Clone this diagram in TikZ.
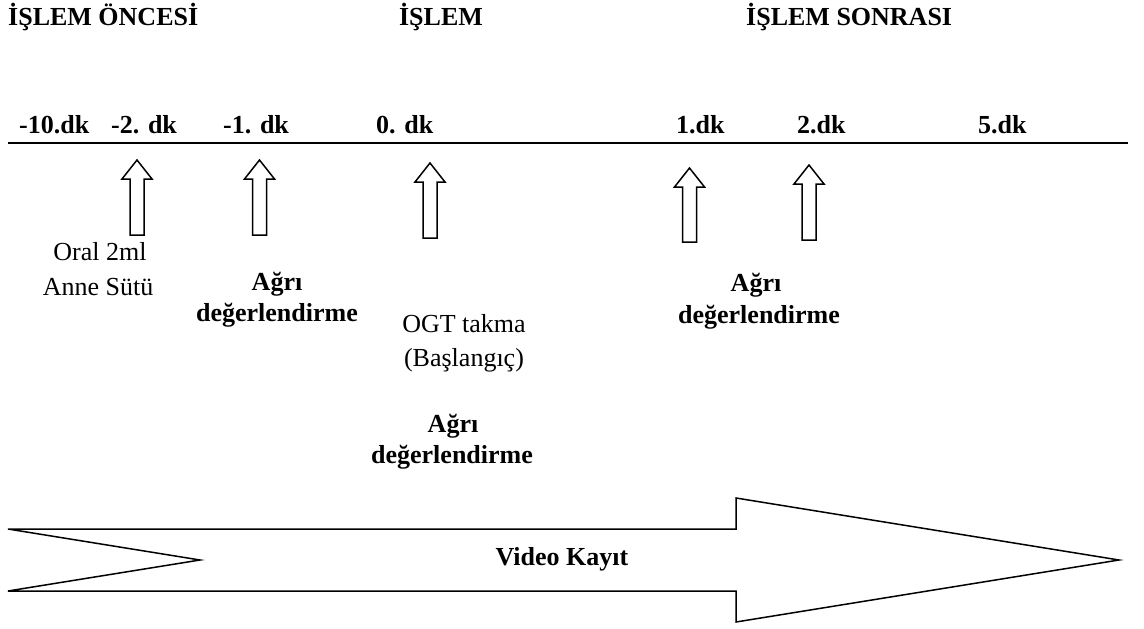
\documentclass[tikz,border=0pt]{standalone}
\usepackage{fontspec}
\setmainfont{Liberation Serif}
\begin{document}
\begin{tikzpicture}[x=1pt,y=-1pt,
  lbl/.style={inner sep=0pt,font=\fontsize{26}{30}\selectfont\bfseries},
  txt/.style={inner sep=0pt,font=\fontsize{26}{30}\selectfont},
  arr/.style={draw=black,line width=1.5pt,line join=miter},
  tline/.style={draw=black,line width=2pt}]
\useasboundingbox (0,0) rectangle (1144,629);
\newcommand\myuparrow[4]{%
  \draw[arr] (#2,#3) coordinate (#1) -- ++(15,19) -- ++(-8,0) -- (#2+7,#4) -- (#2-7,#4) -- (#2-7,#3+19) -- ++(-8,0) -- cycle;}
% headers
\node[lbl,anchor=base west] (h1) at (8,25) {İŞLEM ÖNCESİ};
\node[lbl,anchor=base] (h2) at (441,25) {İŞLEM};
\node[lbl,anchor=base west] (h3) at (746,25) {İŞLEM SONRASI};
% time labels
\node[lbl,anchor=base west] (t1) at (19,133) {-10.dk};
\node[lbl,anchor=base west] (t2) at (111,133) {-2. dk};
\node[lbl,anchor=base west] (t3) at (223,133) {-1. dk};
\node[lbl,anchor=base west] (t4) at (376,133) {0. dk};
\node[lbl,anchor=base west] (t5) at (676,133) {1.dk};
\node[lbl,anchor=base west] (t6) at (797,133) {2.dk};
\node[lbl,anchor=base west] (t7) at (978,133) {5.dk};
% timeline
\coordinate (L0) at (8,143);
\coordinate (L1) at (1128,143);
\draw[tline] (L0) -- (L1);
% small up arrows
\myuparrow{a1}{137}{160}{235}
\myuparrow{a2}{259.5}{160}{235}
\myuparrow{a3}{430}{163}{238}
\myuparrow{a4}{689.5}{168}{242}
\myuparrow{a5}{809}{165}{240}
% texts under arrows
\node[txt,anchor=base] (o1) at (100,260) {Oral 2ml};
\node[txt,anchor=base] (o2) at (98,295) {Anne Sütü};
\node[lbl,anchor=base] (p1) at (277,290) {Ağrı};
\node[lbl,anchor=base] (p2) at (277,321) {değerlendirme};
\node[txt,anchor=base] (g1) at (464,332) {OGT takma};
\node[txt,anchor=base] (g2) at (464,366) {(Başlangıç)};
\node[lbl,anchor=base] (q1) at (453,432) {Ağrı};
\node[lbl,anchor=base] (q2) at (452,463) {değerlendirme};
\node[lbl,anchor=base] (r1) at (756,291) {Ağrı};
\node[lbl,anchor=base] (r2) at (759,323) {değerlendirme};
% big arrow
\draw[arr] (8,529) -- (736,529) -- (736,498) -- (1119,560) -- (736,622) -- (736,591) -- (8,591) -- (200,560) -- cycle;
\node[lbl,anchor=base] (v) at (562,565) {Video Kayıt};
\end{tikzpicture}
\end{document}
